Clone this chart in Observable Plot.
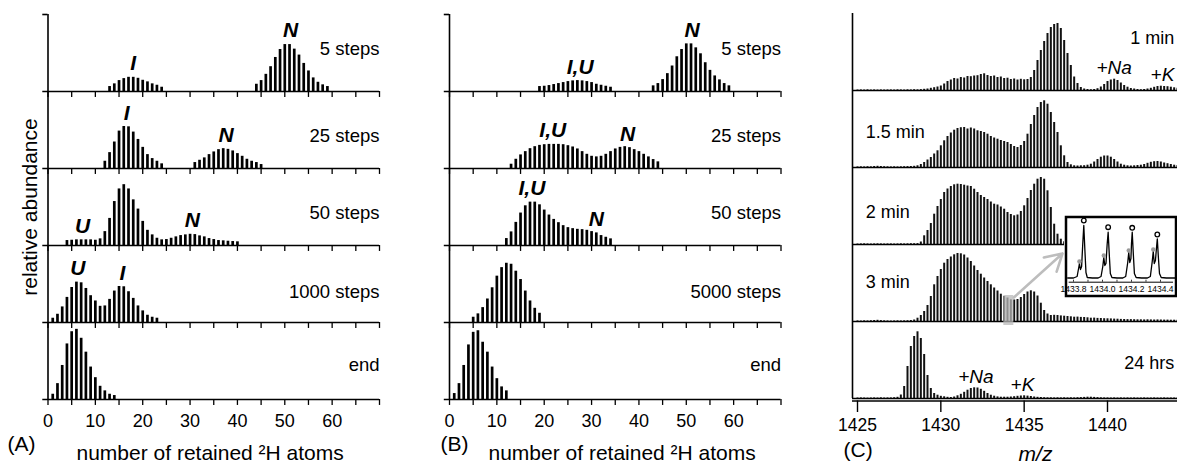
<!DOCTYPE html>
<html>
<head>
<meta charset="utf-8">
<script src="https://cdn.jsdelivr.net/npm/d3@7"></script>
<script src="https://cdn.jsdelivr.net/npm/@observablehq/plot@0.6"></script>
<style>
  html, body { margin: 0; padding: 0; background: #fff; }
  #fig { position: relative; width: 1177px; height: 464px; overflow: hidden; }
  #fig > div { position: absolute; top: 0; }
</style>
</head>
<body>
<div id="fig">
  <div id="pa" style="left:0px"></div>
  <div id="pb" style="left:401px"></div>
  <div id="pc" style="left:800px"></div>
  <div id="inset" style="left:1064px; top:215px"></div>
</div>
<script>
// ---------- (A) simulated 2H retention distributions ----------
const rowsA = ["5 steps", "25 steps", "50 steps", "1000 steps", "end"];
const a5_I   = [5, 7.7, 11, 13, 14.3, 14.3, 13.3, 11.3, 9.7, 7.7, 6.3, 4.3];             // n = 13..24
const a5_N   = [7.3, 11, 17.3, 25, 34.3, 42.3, 47.3, 47.3, 42.7, 36.7, 28.3, 20.7, 13.7, 9.3, 6.7, 5]; // n = 44..59
const a25_I  = [7.3, 16, 26.7, 37.7, 42.3, 42, 36.7, 29.3, 21.3, 14, 10, 7.3, 4.7];       // n = 12..24
const a25_N  = [6, 8.3, 10.7, 14, 16.7, 19, 20, 19.3, 17.7, 15, 12.3, 9.3, 7.3, 6, 4];     // n = 31..45
const a50    = [5, 5.3, 5.7, 5.7, 5.7, 5.7, 5.3, 6.7, 14, 27.3, 44.3, 57, 61.3, 57, 46, 36.7, 24.3,
                15.3, 10.7, 7.3, 5.7, 6, 7.3, 8.7, 10, 10.7, 11.3, 11, 9.7, 8.7, 7, 6, 5, 4.7, 4.3, 4, 3.7]; // n = 4..40
const a1000  = [4.3, 8.3, 15.7, 25.3, 35.3, 40.7, 40, 34.3, 27, 21.7, 16.3, 16.7, 23.3, 31.7, 36.3,
                36, 31, 24.3, 16.7, 11.7, 7.3, 5.3, 4.3];                                  // n = 1..23
const aEnd   = [5.3, 16, 34.3, 56, 68.3, 70.7, 61.7, 47.7, 32.7, 22, 13.3, 8.7, 5.3, 4];  // n = 1..14
const peaksA = [[0, "I", 18], [0, "N", 51.2], [1, "I", 16.6], [1, "N", 37.6],
                [2, "U", 7.3], [2, "N", 30.5], [3, "U", 6.3], [3, "I", 15.7]];

// ---------- (B) ----------
const rowsB = ["5 steps", "25 steps", "50 steps", "5000 steps", "end"];
const b5_IU  = [5, 5.3, 6, 7, 8, 9, 10, 10.7, 11, 10.7, 10, 9, 7.3, 6.3, 5.3, 4.3];        // n = 19..34
const b5_N   = [5.7, 8, 12, 18, 25.7, 35, 42.3, 48, 48, 44, 38, 29, 21.3, 15.7, 11.7, 8, 5.7]; // n = 43..59
const b25    = [4.3, 9.3, 13.7, 17, 20, 22, 23.3, 24, 24.3, 24.3, 24.3, 24, 23, 21.7, 19.7, 17,
                14.3, 12.3, 11.7, 12.3, 14.3, 17, 19.7, 21.3, 22, 21, 19, 17, 14.3, 11.7, 9, 6.7]; // n = 13..44
const b50    = [7, 13.7, 23.3, 32.7, 40, 43.7, 43.7, 41, 35.7, 30.7, 26.3, 23, 20, 18, 17, 16.3,
                16, 15.3, 14, 12.7, 10, 8.3, 6.7];                                         // n = 12..34
const b5000  = [5.3, 8.7, 15, 23.7, 35, 46.7, 55.3, 59.7, 58.7, 51.7, 43.3, 31.7, 21.7, 14.3, 9.3]; // n = 5..19
const bEnd   = [6, 16, 34.3, 55, 67.7, 69.3, 57.7, 47.7, 32.7, 21, 12.7, 8.7];            // n = 1..12
const peaksB = [[0, "I,U", 27.6], [0, "N", 51.2], [1, "I,U", 21.8], [1, "N", 37.6],
                [2, "I,U", 17.4], [2, "N", 31]];

const nTicks  = d3.range(0, 71, 5);
const nLabels = [0, 10, 20, 30, 40, 50, 60];

// ---------- (C) ESI mass spectra, isotopic sticks every 0.2 m/z from 1425.0 ----------
const rowsC = ["1 min", "1.5 min", "2 min", "3 min", "24 hrs"];
const MZ0 = 1425, MZSTEP = 0.2;
const c1 = [0.5,0.6,0.5,0.7,0.5,0.6,0.5,0.6,0.5,0.6, 0.6,0.5,0.7,0.6,0.5,0.7,0.6,0.8,0.7,0.9,
  1.2,1.5,2.2,2.8,3.5, 4.5,6.5,9,10.5,12, 11.5,13,12.5,14,13.8, 14.5,14.8,16,16.7,15,
  14,14.5,13,13.5,12, 12.3,11,11.5,10.5,11.2, 10.7,11,13,20,30, 40,49,57,63,66,
  67,62,50,37,25, 13.5,7,3,1.5,1, 0.8,1,1.8,3.5,6, 9,10.5,11.3,10,7.5,
  5,3.3,2,1.5,1, 0.8,1,1.5,2.2,3.2, 4,4.3,4,3.8,3.3, 2.7,2.2];
const c15 = [0.6,0.7,0.6,0.8,0.7,1,1.2,1,0.8,0.7, 0.6,0.7,0.6,0.7,0.8,0.9,1,1.2,1.7,3,
  5,7.5,10,13.5,16.7, 21.7,26.7,31,34.5,37.3, 39,39.8,40,38.5,39.5, 38.5,36.7,36,35,33.3,
  31,29.5,28.3,27,26, 25,23,21,20,22, 26,33.3,43,52,60, 65,66.7,63.3,55,45,
  35,21.7,11.7,5,2.7, 1.7,1.5,1.7,1.8,2.3, 3.3,5.5,8,10.3,11.5, 11.5,10.3,8,5.5,3.3,
  2.3,1.7,1.5,1.7,2, 2.3,3,4.2,5.2,5.8, 6,5.5,4.5,3.8,3, 2.3,2];
const c2 = [0.5,0.6,0.7,0.6,0.5,0.6,0.7,0.6,0.5,0.6, 0.6,0.5,0.6,0.7,0.6,0.7,0.8,0.8,0.9,2.5,
  8.7,14,21,30.3,38, 45,52,55.5,58,59.7, 60.3,60,59.3,58.5,58, 55.3,52,49,47,45,
  42.5,40.3,39.5,37.5,35.3, 32,30,28.7,29.5,33, 38.7,46,54,60.3,65.3, 67,65.3,53.7,37,20.3,
  10.3,5.3,2.7,2,1.8, 1.7,1.5,1.5,1.6,1.8, 2.2,3,4,5,5.5, 5.5,5,4,3,2.2,
  1.8,1.5,1.5,1.6,1.8, 2,2.3,2.6,2.8,3, 3,2.8,2.5,2.2,2, 1.8,1.6];
const c3 = [0.6,0.5,0.7,0.6,0.8,1,1.2,0.9,0.7,0.6, 0.5,0.6,0.7,0.6,0.7,0.8,1,1.5,3.3,6,
  10,16,25,36.7,45, 52,58.3,62,64.5,66.7, 68,67.7,66.5,63.5,60, 55.5,51,47.3,43.5,40,
  36.7,33.5,30.5,27.3,25, 23.5,21.7,21.5,22,24, 27,29.5,30.7,29.5,25.5, 18.3,11,7.5,6,6.2,
  6,5.6,5.3,5,4.7, 4.3,4.4,4.1,4,3.7, 3.3,3.4,3.1,3,2.8, 2.7,2.6,2.4,2.3,2.1,
  2,1.9,1.9,1.8,1.7, 1.7,1.6,1.7,1.6,1.5, 1.6,1.5,1.4,1.4,1.3, 1.3,1.2];
const c24 = [0.5,0.6,0.5,0.4,0.5,0.6,0.5,0.7,0.5,0.6,
  0.6,0.8,1.2,3.5,12, 32,52,62,66.7,60, 44,23,10,5,3.3, 2.2,1.7,1.2,1,1.5,
  2.7,4.2,6.2,8.3,10, 10.7,10.5,9.2,7.2,5, 3.3,2.3,1.6,1.3,1.3, 1.3,1.5,1.8,2.2,2.5,
  2.7,2.4,2,1.5,1.2, 1,0.8,0.7,0.7,0.6, 0.7,0.6,0.7,0.6,0.7, 0.6,0.8,0.9,1.1,1.3,
  1.3,1.1,0.9,0.7,0.6, 0.6,0.5,0.6,0.5,0.6, 0.5,0.6,0.5,0.6,0.5, 0.5,0.6,0.5,0.5,0.6,
  0.5,0.5,0.6,0.5,0.5, 0.5,0.5];
const adducts = [[0, "+Na", 1440.4], [0, "+K", 1443.3], [4, "+Na", 1432.1], [4, "+K", 1434.9]];
const mzTicks = [1425, 1430, 1435, 1440];

// ---------- zoomed isotope cluster (inset) ----------
const insetMz = [1433.76, 1433.80, 1433.825, 1433.835, 1433.841, 1433.848, 1433.856, 1433.864, 1433.871, 1433.878, 1433.886, 1433.895,
  1433.93, 1433.97, 1433.99, 1434.002, 1434.009, 1434.016, 1434.024, 1434.032, 1434.039, 1434.046, 1434.054, 1434.065,
  1434.10, 1434.14, 1434.16, 1434.174, 1434.181, 1434.188, 1434.196, 1434.200, 1434.205, 1434.212, 1434.220, 1434.232,
  1434.27, 1434.31, 1434.33, 1434.343, 1434.350, 1434.357, 1434.365, 1434.372, 1434.378, 1434.385, 1434.393, 1434.405,
  1434.44, 1434.50];
const insetI = [0.5, 0.5, 2, 10, 15, 9, 12, 35, 53, 30, 6, 1,
  0.5, 0.5, 2, 12, 21, 13, 15, 34, 46.3, 26, 5, 1,
  0.5, 0.5, 2, 16, 26, 16, 20, 35, 46.3, 26, 5, 1,
  0.5, 0.5, 2, 17, 27, 15, 18, 30, 39.7, 22, 5, 1,
  0.5, 0.5];
const shoulderMz = [1433.841, 1434.009, 1434.181, 1434.350];
const shoulderI  = [17, 23, 28, 29];
const apexMz     = [1433.871, 1434.039, 1434.205, 1434.378];
const apexMark   = [58, 51.3, 50.7, 44];
const insetTicks = ["1433.8", "1434.0", "1434.2", "1434.4"];

// ---------- shared helpers ----------
const FONT = "'Liberation Sans', Arial, Helvetica, sans-serif";
const STYLE = {fontFamily: FONT, background: "transparent", color: "black", overflow: "visible"};
const ROWS = [0, 1, 2, 3, 4];
const seq = (first, values) => values.map((v, i) => ({n: first + i, v}));

function distributionPanel({rowLabels, dist, peaks, width, marginLeft, marginRight, letter, letterDx, titleDx, yTitle}) {
  const BAND = 77.6;
  const rowLift = [43, 33, 33, 31, 35];
  const bars = dist.flatMap((r, row) => r.map(d => ({row, n: d.n, v: d.v})));
  const at = (row, n) => (bars.find(b => b.row === row && b.n === Math.round(n)) || {v: 0}).v;
  const peakText = peaks.map(([row, text, n]) => ({row, text, n, y: at(row, n) + 14}));
  const marks = [
    Plot.ruleX([0], {y1: 0, y2: BAND, strokeWidth: 1.6}),
    Plot.ruleY([BAND], {x1: -1.1, x2: 0, fy: () => 0, strokeWidth: 1.6}),
    Plot.ruleX(bars, {x: "n", y1: 0, y2: "v", fy: "row", strokeWidth: 2.7, stroke: "#000"}),
    Plot.ruleY([0], {x1: -1.1, x2: 70, strokeWidth: 1.6}),
    Plot.ruleX(nTicks, {y1: 0, y2: -6, strokeWidth: 1.3}),
    Plot.text(nLabels, {x: d => d, y: -22, fy: () => 4, text: d => `${d}`, fontSize: 18}),
    Plot.text(rowLabels, {x: 70, y: (d, i) => rowLift[i], fy: (d, i) => i, textAnchor: "end", fontSize: 18.5}),
    Plot.text(peakText, {x: "n", y: "y", fy: "row", text: "text", fontSize: 21, fontWeight: "bold", fontStyle: "italic"}),
    Plot.text([letter], {frameAnchor: "bottom-left", fy: () => 4, dx: letterDx, dy: 44.3,
      textAnchor: "start", lineAnchor: "middle", fontSize: 21}),
    Plot.text(["number of retained ²H atoms"], {frameAnchor: "bottom-left", fy: () => 4, dx: titleDx, dy: 53.8,
      textAnchor: "start", lineAnchor: "middle", fontSize: 21})
  ];
  if (yTitle) marks.push(Plot.text([yTitle], {frameAnchor: "left", fy: () => 2, rotate: -90, dx: -17.7,
    textAnchor: "middle", lineAnchor: "middle", fontSize: 21}));
  return Plot.plot({
    width, height: 464, marginLeft, marginRight, marginTop: 12, marginBottom: 64,
    style: STYLE,
    x: {domain: [0, 70], axis: null},
    y: {domain: [0, BAND], axis: null},
    fy: {domain: ROWS, axis: null, padding: 0},
    marks
  });
}

// Panel A
document.getElementById("pa").append(distributionPanel({
  rowLabels: rowsA,
  dist: [[...seq(13, a5_I), ...seq(44, a5_N)], [...seq(12, a25_I), ...seq(31, a25_N)],
         seq(4, a50), seq(1, a1000), seq(1, aEnd)],
  peaks: peaksA, width: 390, marginLeft: 47.5, marginRight: 11,
  letter: "(A)", letterDx: -40.5, titleDx: 28.5, yTitle: "relative abundance"
}));

// Panel B
document.getElementById("pb").append(distributionPanel({
  rowLabels: rowsB,
  dist: [[...seq(19, b5_IU), ...seq(43, b5_N)], seq(13, b25), seq(12, b50), seq(5, b5000), seq(1, bEnd)],
  peaks: peaksB, width: 390, marginLeft: 48, marginRight: 10.5,
  letter: "(B)", letterDx: -9, titleDx: 39
}));

// Panel C
{
  const BAND = 77;
  const series = [c1, c15, c2, c3, c24];
  const sticks = series.flatMap((s, row) => s.map((v, i) => ({row, mz: +(MZ0 + i * MZSTEP).toFixed(1), v})));
  const valueAt = (row, mz) => series[row][Math.round((mz - MZ0) / MZSTEP)] || 0;
  const adductText = adducts.map(([row, text, mz]) => ({row, text, mz, y: valueAt(row, mz) + 11}));
  // time labels: first and last row sit at the right edge, the others at the left
  const labelLift = [52, 35, 32, 39, 35];
  const labels = rowsC.map((text, row) => ({text, row, y: labelLift[row], right: row === 0 || row === 4}));
  const zoomBox = {x1: 1433.78, x2: 1434.38, y1: -4, y2: 26};
  const zoomArrow = {x1: 1434.38, y1: 24, x2: 1437.3, y2: 68};
  const el = Plot.plot({
    width: 377, height: 464, marginLeft: 52, marginRight: 0, marginTop: 13, marginBottom: 66,
    style: STYLE,
    x: {domain: [1424.7, 1444.2], axis: null},
    y: {domain: [0, BAND], axis: null},
    fy: {domain: ROWS, axis: null, padding: 0},
    marks: [
      Plot.ruleX(sticks, {x: "mz", y1: 0, y2: "v", fy: "row", stroke: "#111", strokeWidth: 2}),
      Plot.ruleY([0], {strokeWidth: 1.3}),
      Plot.ruleX([1424.7], {y1: 0, y2: BAND, strokeWidth: 1.6}),
      Plot.ruleY([-2.5], {fy: () => 4, strokeWidth: 1.6}),
      Plot.ruleX(mzTicks, {y1: -2.5, y2: -14, fy: () => 4, strokeWidth: 1.4}),
      Plot.text(mzTicks, {x: d => d, y: -27, fy: () => 4, text: d => `${d}`, fontSize: 17.5}),
      Plot.text(labels.filter(d => !d.right), {x: 1425.5, y: "y", fy: "row", text: "text", textAnchor: "start", fontSize: 18}),
      Plot.text(labels.filter(d => d.right), {x: 1444.0, y: "y", fy: "row", text: "text", textAnchor: "end", fontSize: 18}),
      Plot.text(adductText, {x: "mz", y: "y", fy: "row", text: "text", fontSize: 19, fontStyle: "italic"}),
      Plot.rect([zoomBox], {x1: "x1", x2: "x2", y1: "y1", y2: "y2", fy: () => 3, fill: "#b8b8b8", fillOpacity: 0.75}),
      Plot.arrow([zoomArrow], {x1: "x1", y1: "y1", x2: "x2", y2: "y2", fy: () => 3,
        stroke: "#bdbdbd", strokeWidth: 2.6, headLength: 11}),
      Plot.text(["(C)"], {frameAnchor: "bottom-left", fy: () => 4, dx: -9, dy: 51.3,
        textAnchor: "start", lineAnchor: "middle", fontSize: 21}),
      Plot.text(["m/z"], {frameAnchor: "bottom-left", fy: () => 4, dx: 183, dy: 56,
        textAnchor: "middle", lineAnchor: "middle", fontSize: 21, fontStyle: "italic"})
    ]
  });
  document.getElementById("pc").append(el);
}

// Inset: resolved isotope peaks of the 3 min spectrum
{
  const trace = insetMz.map((mz, i) => ({mz, v: insetI[i]}));
  const shoulders = shoulderMz.map((mz, i) => ({mz, v: shoulderI[i]}));
  const apexes = apexMz.map((mz, i) => ({mz, v: apexMark[i]}));
  const el = Plot.plot({
    width: 113, height: 82, marginLeft: 1.5, marginRight: 1.5, marginTop: 1.5, marginBottom: 1.5,
    style: {...STYLE, background: "white"},
    x: {domain: [1433.7483, 1434.5069], axis: null},
    y: {domain: [-17.5, 61.5], axis: null},
    marks: [
      Plot.ruleY([-3.7], {x1: 1433.77, x2: 1434.49, strokeWidth: 1}),
      Plot.ruleX(d3.range(1433.8, 1434.45, 0.1), {y1: -3.7, y2: -1.7, strokeWidth: 0.8}),
      Plot.line(trace, {x: "mz", y: "v", strokeWidth: 1.3}),
      Plot.dot(shoulders, {x: "mz", y: "v", r: 2.2, fill: "#9a9a9a"}),
      Plot.dot(apexes, {x: "mz", y: "v", r: 2.3, stroke: "black", strokeWidth: 1.3, fill: "white"}),
      Plot.text(insetTicks, {x: d => +d, y: -10.3, text: d => d, fontSize: 8.5}),
      Plot.frame({strokeWidth: 2.5})
    ]
  });
  document.getElementById("inset").append(el);
}
</script>
</body>
</html>
